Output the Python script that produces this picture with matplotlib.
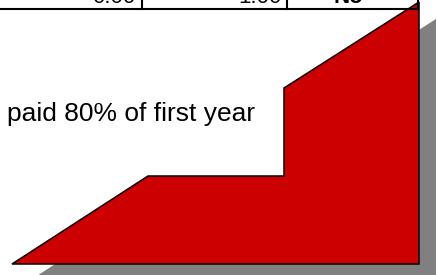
import matplotlib.pyplot as plt
from matplotlib.patches import Polygon

# step profile of the payment block (x along, height up)
stepX = [12, 148, 284, 284, 419, 419]
stepY = [11, 99, 99, 187, 273, 11]

# partly visible table row above the chart
cellText = ["0.00", "1.00", "No"]
cellRight = [135, 282, 348]
cellEdges = [142, 287, 418]

label = "paid 80% of first year"

shadowOff = 17
red = "#cc0000"
grey = "#808080"

fig = plt.figure(figsize=(4.37, 2.75), dpi=100)
ax = fig.add_axes([0, 0, 1, 1])
ax.set_xlim(0, 437)
ax.set_ylim(0, 275)
ax.axis("off")

# drop shadow first, then the red block on top
shadowPts = [(x + shadowOff, y - shadowOff) for x, y in zip(stepX, stepY)]
ax.add_patch(Polygon(shadowPts, closed=True, facecolor=grey, edgecolor="none", zorder=1))
ax.add_patch(Polygon(list(zip(stepX, stepY)), closed=True, facecolor=red,
                     edgecolor="black", linewidth=1.1, zorder=2))

ax.text(7, 154, label, fontsize=19, family="Liberation Sans", va="baseline", ha="left", zorder=3)

# table row bottom
ax.plot([0, cellEdges[-1]], [266, 266], color="black", linewidth=1.5, zorder=4)
for xe in cellEdges:
  ax.plot([xe, xe], [266, 276], color="black", linewidth=1.5, zorder=4)
for i, (txt, xr) in enumerate(zip(cellText, cellRight)):
  if txt == "No":
    ax.text(xr, 272, txt, fontsize=16, family="Liberation Sans", weight="bold",
            ha="center", va="baseline", zorder=5)
  else:
    ax.text(xr, 272, txt, fontsize=16, family="Liberation Sans",
            ha="right", va="baseline", zorder=5)

fig.savefig("out.png", dpi=100)
